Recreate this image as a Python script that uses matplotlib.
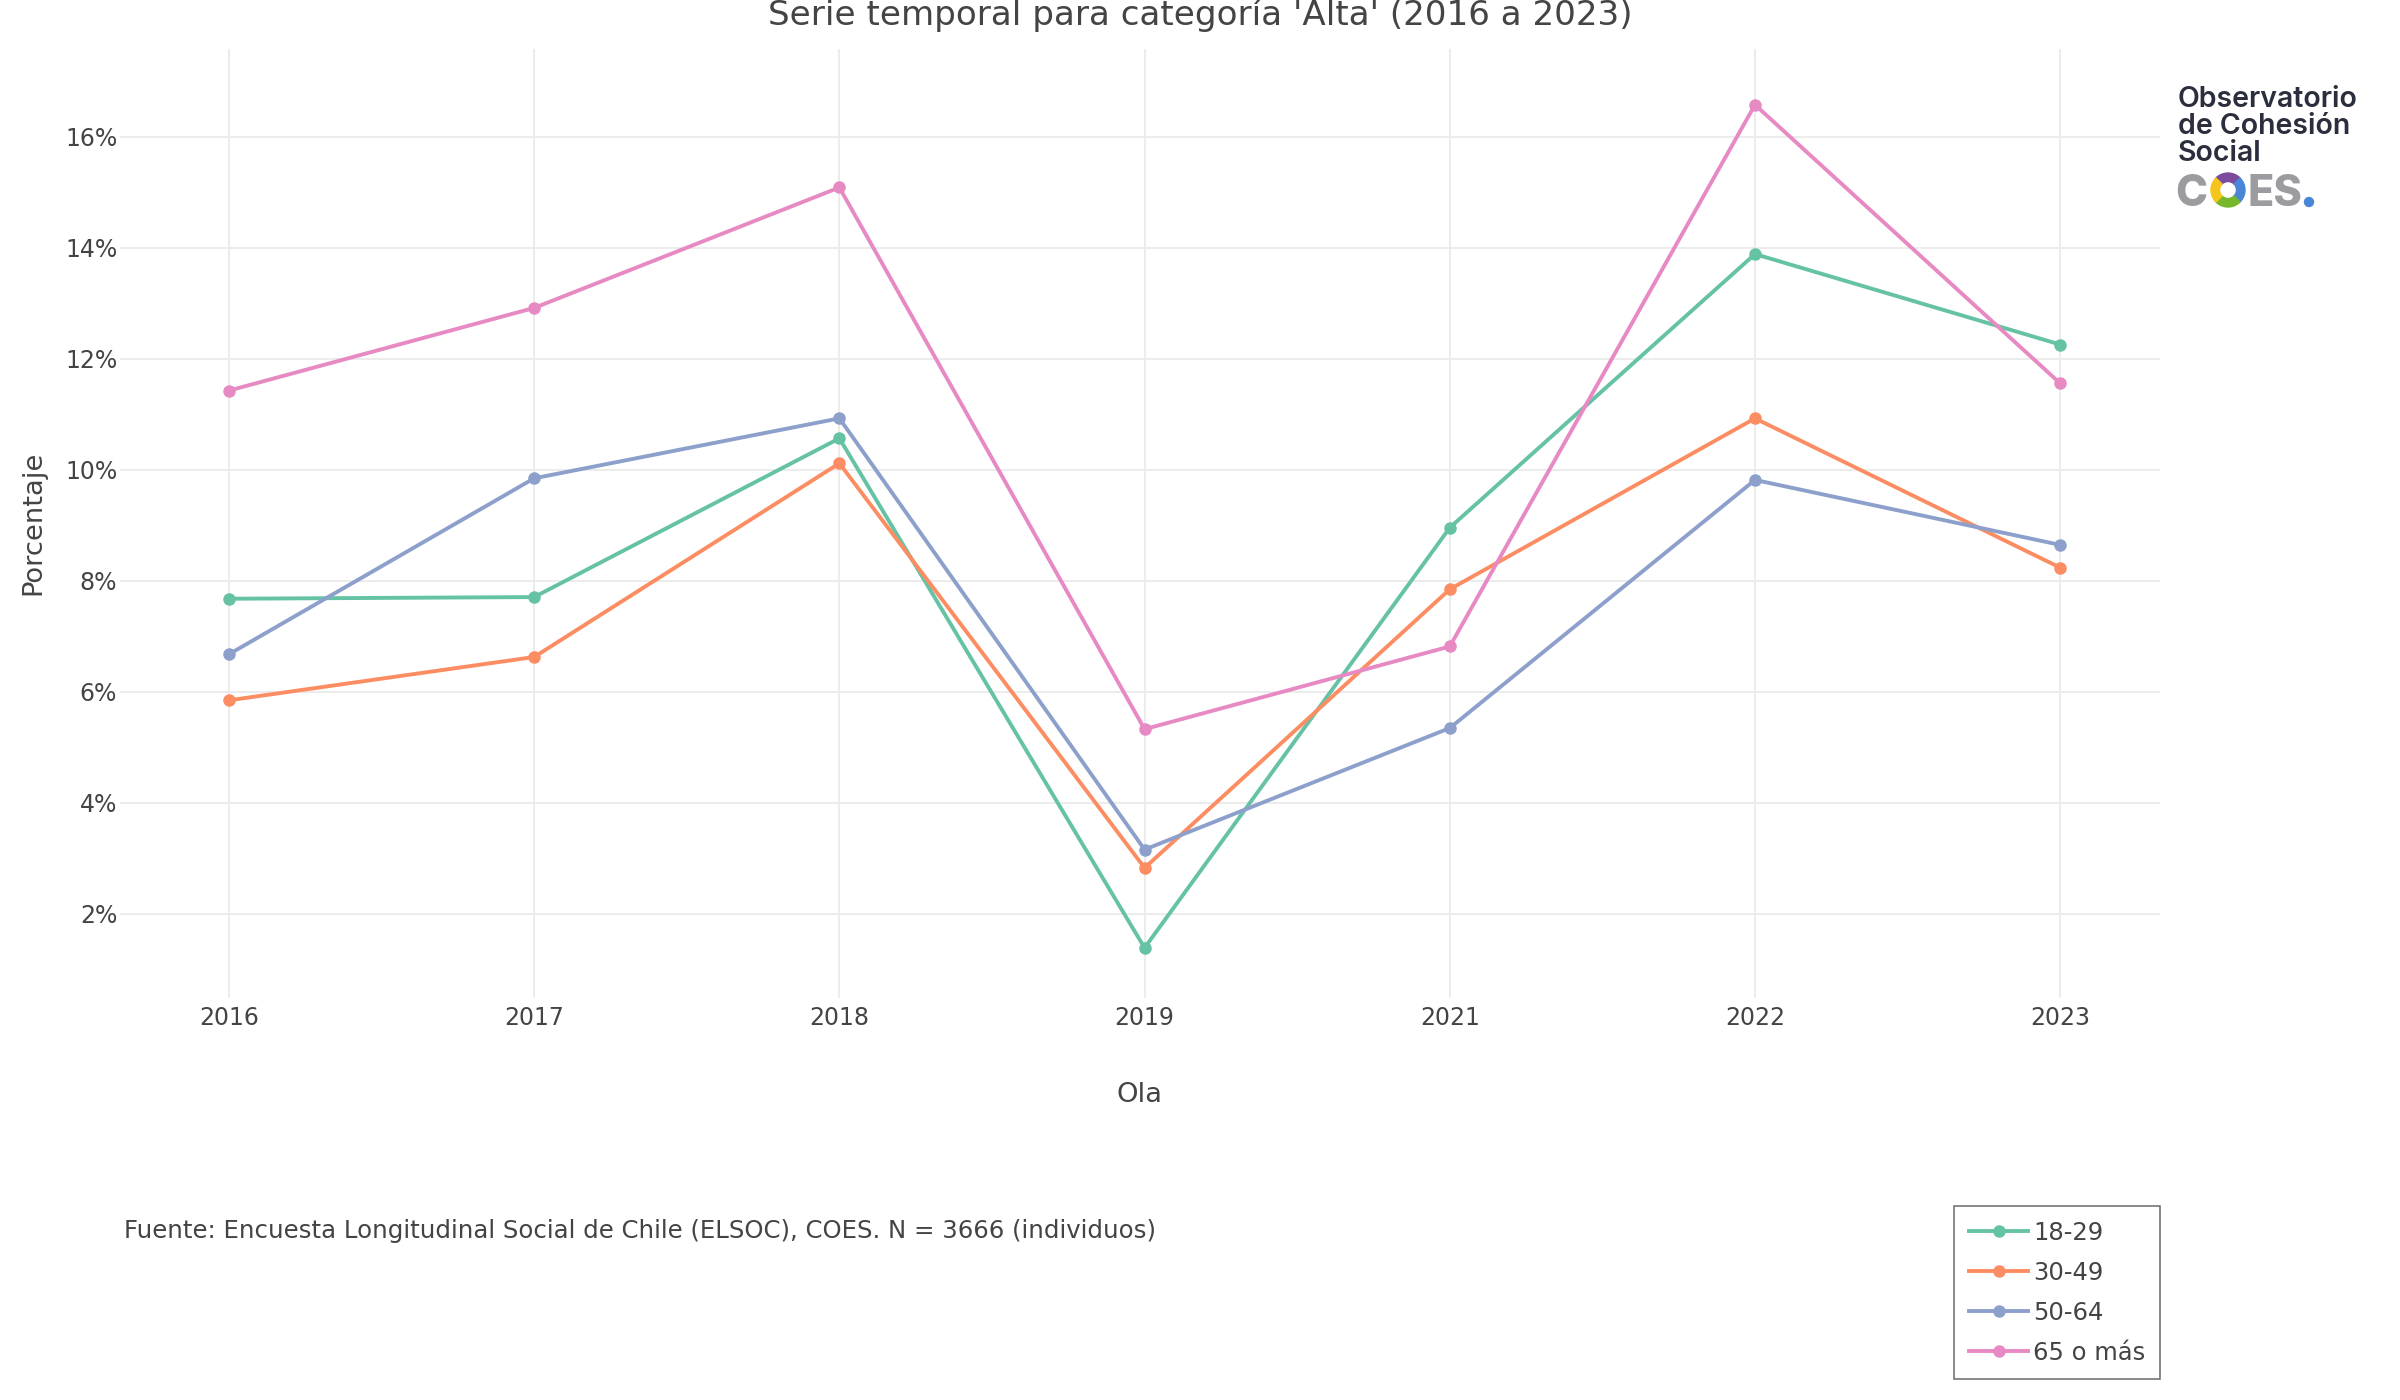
import matplotlib
matplotlib.use('Agg')
import matplotlib.pyplot as plt
from matplotlib.patches import Wedge, Circle

# ~~~ DATOS ~~~
olas = ['2016', '2017', '2018', '2019', '2021', '2022', '2023']
grupos = ['18-29', '30-49', '50-64', '65 o más']
p_18_29 = [7.68, 7.71, 10.57, 1.39, 8.96, 13.89, 12.26]
p_30_49 = [5.85, 6.63, 10.12, 2.83, 7.85, 10.93, 8.24]
p_50_64 = [6.68, 9.85, 10.93, 3.16, 5.35, 9.82, 8.65]
p_65_mas = [11.43, 12.92, 15.09, 5.33, 6.82, 16.58, 11.56]
colores = ['#66c2a5', '#fc8d62', '#8da0cb', '#e78ac3']
yticks = [2, 4, 6, 8, 10, 12, 14, 16]

titulo = "Serie temporal para categoría 'Alta' (2016 a 2023)"
fuente = 'Fuente: Encuesta Longitudinal Social de Chile (ELSOC), COES. N = 3666 (individuos)'

TXT = '#444444'
GRID = '#ebebeb'


def logo(fig):
    # capa en pixeles para dibujar el logo de COES
    lx = fig.add_axes([0, 0, 1, 1], facecolor='none')
    lx.set_xlim(0, 2400)
    lx.set_ylim(1400, 0)
    lx.axis('off')
    navy = '#2b2e3d'
    gris = '#9c9ca0'
    for i, t in enumerate(['Observatorio', 'de Cohesión', 'Social']):
        lx.text(2178, 107 + 27 * i, t, fontsize=20.5, fontweight='semibold',
                family='Inter', color=navy, va='baseline')
    lx.text(2175, 206, 'C', fontsize=31, fontweight='heavy', family='Inter',
            color=gris, va='baseline')
    cx, cy, r, w = 2228, 190, 17, 8.5
    # y invertido: 270 es arriba
    lx.add_patch(Wedge((cx, cy), r, 225, 315, width=w, color='#7d4b9e'))
    lx.add_patch(Wedge((cx, cy), r, -45, 45, width=w, color='#4a86d8'))
    lx.add_patch(Wedge((cx, cy), r, 45, 135, width=w, color='#77b72b'))
    lx.add_patch(Wedge((cx, cy), r, 135, 225, width=w, color='#f5c51c'))
    lx.text(2247, 206, 'ES', fontsize=31, fontweight='heavy', family='Inter',
            color=gris, va='baseline')
    lx.add_patch(Circle((2309, 202), 4.5, color='#4a86d8'))


def plot():
    fig = plt.figure(figsize=(24, 14), dpi=100)
    ax = fig.add_axes([120 / 2400, 1 - 998 / 1400, 2040 / 2400, 949 / 1400])
    x = list(range(len(olas)))
    series = [p_18_29, p_30_49, p_50_64, p_65_mas]
    for serie, nombre, col in zip(series, grupos, colores):
        ax.plot(x, serie, '-o', color=col, lw=2.8, ms=8, label=nombre)

    ax.set_xlim(-0.357, 6.327)
    ax.set_ylim(0.486, 17.585)
    ax.set_xticks(x)
    ax.set_xticklabels(olas)
    ax.set_yticks(yticks)
    ax.set_yticklabels(['%d%%' % v for v in yticks])
    ax.tick_params(length=0, labelsize=17, colors=TXT)
    ax.tick_params(axis='x', pad=6)
    ax.tick_params(axis='y', pad=2)
    ax.grid(True, color=GRID, lw=1.3)
    ax.set_axisbelow(True)
    for s in ax.spines.values():
        s.set_visible(False)

    fig.text(1200 / 2400, 1 - 25 / 1400, titulo, ha='center', va='baseline',
             fontsize=24.6, color=TXT)
    fig.text(1140 / 2400, 1 - 1102 / 1400, 'Ola', ha='center', va='baseline',
             fontsize=19.7, color=TXT)
    fig.text(20 / 2400, 1 - 523 / 1400, 'Porcentaje', rotation=90,
             ha='left', va='center', fontsize=19.7, color=TXT)
    fig.text(124 / 2400, 1 - 1238 / 1400, fuente, va='baseline',
             fontsize=17.6, color=TXT)

    leg = fig.legend(loc='upper right', bbox_to_anchor=(2160 / 2400, 1 - 1206 / 1400),
                     fontsize=17.5, frameon=True, fancybox=False, borderpad=0.6,
                     labelspacing=0.66, handlelength=2.45, handletextpad=0.2,
                     borderaxespad=0)
    leg.get_frame().set_edgecolor(TXT)
    leg.get_frame().set_linewidth(1.1)
    for t in leg.get_texts():
        t.set_color(TXT)

    logo(fig)
    fig.savefig('out.png', dpi=100)


if __name__ == '__main__':
    plot()
